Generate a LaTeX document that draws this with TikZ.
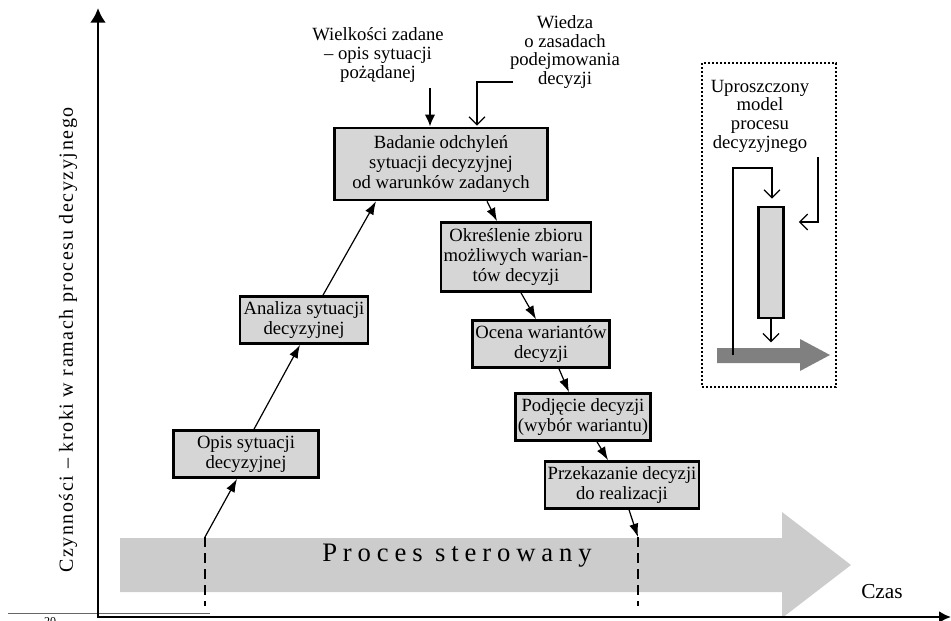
\documentclass[tikz,border=0pt]{standalone}
\usepackage{fontspec}
\setmainfont{Liberation Serif}
\usetikzlibrary{arrows.meta,calc}
\begin{document}
\begin{tikzpicture}[x=0.75pt,y=-0.75pt,
  txt/.style={font=\fontsize{14pt}{14pt}\selectfont, align=center, inner sep=0pt},
  stepbox/.style={draw=black, line width=2pt, fill=black!16, align=center, inner sep=2pt,
    font=\fontsize{14pt}{15pt}\selectfont, minimum height=35.25pt},
  conn/.style={line width=0.9pt, -{Latex[length=10pt,width=7pt]}},
  barb/.style={line width=0.9pt, -{Straight Barb[length=6pt,width=12pt]}},
  dashline/.style={line width=2.2pt, dash pattern=on 7.5pt off 4.5pt},
  shade/.style={fill=black!20, draw=none},
]
\useasboundingbox (0,0) rectangle (951,621);

% controlled process: wide shaded arrow along the time axis
\fill[shade] (120,538) -- (782,538) -- (782,512) -- (851,565) -- (782,618)
  -- (782,592) -- (120,592) -- cycle;
\node[font=\fontsize{20pt}{22pt}\selectfont\addfontfeature{LetterSpace=22}] (proc) at (457,556) {Proces sterowany};

% start and end of the decision process on the time line
\coordinate (dl) at (205,537);
\coordinate (dlb) at (205,606);
\coordinate (dr) at (638,537);
\coordinate (drb) at (638,606);
\draw[dashline] (dl) -- (dlb);
\draw[dashline] (dr) -- (drb);

% footnote rule and mark
\draw[line width=0.5pt, black!60] (8,613) -- (210,613);
\node[font=\fontsize{9pt}{10pt}\selectfont, inner sep=0pt] (fn) at (50,622) {20};

% axes
\coordinate (ytop) at (98,8);
\coordinate (orig) at (98,617);
\coordinate (xend) at (951,617);
\draw[line width=2.2pt, {Latex[length=11pt,width=12pt]}-{Latex[length=9pt,width=9pt]}]
  (ytop) -- (orig) -- (xend);
\node[rotate=90, font=\fontsize{15pt}{16pt}\selectfont\addfontfeature{LetterSpace=8}] (ylab) at (68,340)
  {Czynności – kroki w ramach procesu decyzyjnego};
\node[font=\fontsize{16pt}{17pt}\selectfont] (czas) at (882,592) {Czas};

% steps of the decision process
\node[stepbox, minimum width=159.75pt, minimum height=54pt] (b1) at (441,164)
  {Badanie odchyleń\\sytuacji decyzyjnej\\od warunków zadanych};
\node[stepbox, minimum width=96pt] (an) at (304,320) {Analiza sytuacji\\decyzyjnej};
\node[stepbox, minimum width=108.75pt] (op) at (246,454) {Opis sytuacji\\decyzyjnej};
\node[stepbox, minimum width=111pt, minimum height=51.75pt] (ok) at (516,257)
  {Określenie zbioru\\możliwych warian-\\tów decyzji};
\node[stepbox, minimum width=96pt] (oc) at (541,344) {Ocena wariantów\\decyzji};
\node[stepbox, minimum width=97.5pt] (pd) at (583,417) {Podjęcie decyzji\\(wybór wariantu)};
\node[stepbox, minimum width=112.5pt] (pr) at (622,485) {Przekazanie decyzji\\do realizacji};

\draw[conn] (dl) -- ($(op.south)+(-9,0)$);
\draw[conn] ($(op.north)+(8,0)$) -- ($(an.south)+(-4,0)$);
\draw[conn] ($(an.north)+(19,0)$) -- ($(b1.south)+(-65,0)$);
\draw[conn] ($(b1.south)+(46,0)$) -- ($(ok.north)+(-19,0)$);
\draw[conn] ($(ok.south)+(5,0)$) -- ($(oc.north)+(-5,0)$);
\draw[conn] ($(oc.south)+(18,0)$) -- ($(pd.north)+(-14,0)$);
\draw[conn] ($(pd.south)+(14,0)$) -- ($(pr.north)+(-14,0)$);
\draw[conn] ($(pr.south)+(7,0)$) -- (dr);

% inputs of the deviation analysis
\node[txt] (wz) at (378,55) {Wielkości zadane\\– opis sytuacji\\pożądanej};
\node[txt] (wd) at (565,52) {Wiedza\\o zasadach\\podejmowania\\decyzji};
\coordinate (wzs) at (430,88);
\coordinate (wds) at (513,82);
\draw[line width=2.2pt, -{Latex[length=9pt,width=8pt]}] (wzs) -- (wzs |- b1.north);
\draw[barb] (wds) -| ($(b1.north)+(36,-1)$);

% simplified model of the decision process
\draw[line width=1.5pt, dash pattern=on 1.5pt off 1.5pt] (702,63) rectangle (836,387);
\node[txt] (um) at (760,116) {Uproszczony\\model\\procesu\\decyzyjnego};
\node[draw=black, line width=2pt, fill=black!16, minimum width=18.75pt, minimum height=83.25pt,
  inner sep=0pt] (sb) at (771,262.5) {};
\fill[black!50] (717,348) -- (800,348) -- (800,339) -- (830,355) -- (800,371)
  -- (800,363) -- (717,363) -- cycle;
\coordinate (fb) at (733,355);
\coordinate (fbt) at (733,168);
\coordinate (kn) at (818,157);
\coordinate (knb) at (818,222);
\draw[barb] (fb) -- (fbt) -| ($(sb.north)+(1,-7)$);
\draw[barb] (kn) -- (knb) -- ($(sb.east |- knb)+(14,0)$);
\draw[barb] (sb.south) -- ++(0,23);
\end{tikzpicture}
\end{document}
